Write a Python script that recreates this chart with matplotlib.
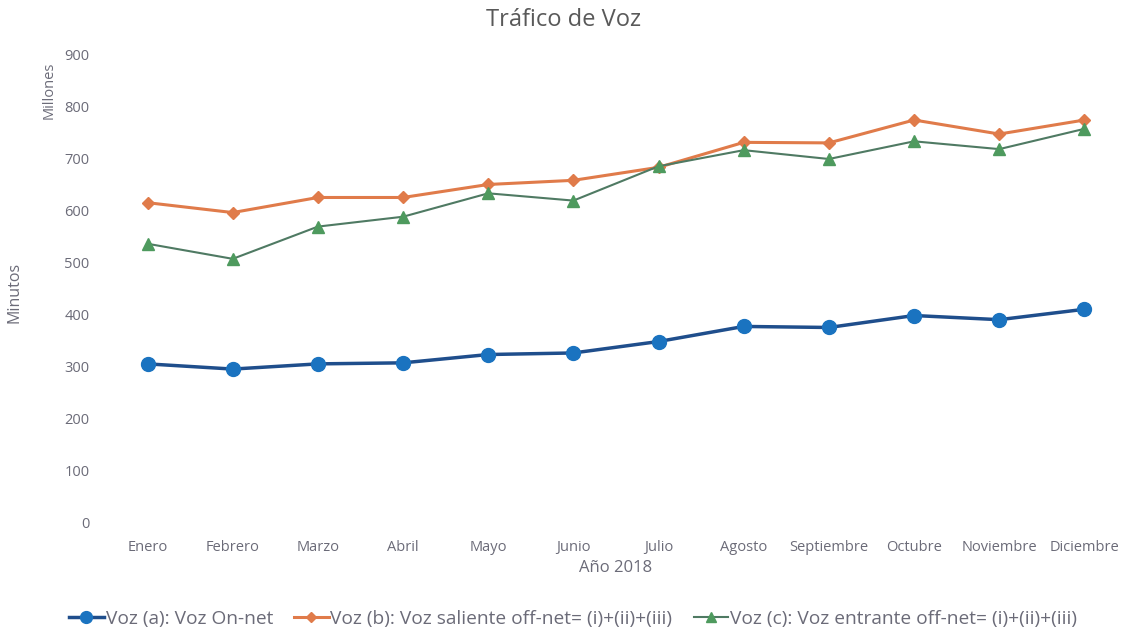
import matplotlib
matplotlib.use("Agg")
import matplotlib.pyplot as plt

plt.rcParams['font.family'] = ['Open Sans', 'DejaVu Sans']

months = ["Enero", "Febrero", "Marzo", "Abril", "Mayo", "Junio", "Julio",
          "Agosto", "Septiembre", "Octubre", "Noviembre", "Diciembre"]
on_net = [306, 296, 306, 308, 324, 327, 349, 378, 376, 399, 391, 411]
saliente = [616, 597, 626, 626, 651, 659, 684, 732, 731, 775, 748, 775]
entrante = [537, 508, 570, 589, 634, 620, 686, 717, 700, 734, 719, 758]
yticks = [0, 100, 200, 300, 400, 500, 600, 700, 800, 900]

labels = ["Voz (a): Voz On-net",
          "Voz (b): Voz saliente off-net= (i)+(ii)+(iii)",
          "Voz (c): Voz entrante off-net= (i)+(ii)+(iii)"]

txt = "#6b6b78"
fig = plt.figure(figsize=(11.28, 6.31), dpi=100)
ax = fig.add_axes([105/1128, 108/631, 1022/1128, 468/631])
x = list(range(len(months)))

ax.plot(x, on_net, color="#1f4e8c", lw=2.5, marker="o", markersize=10,
        markerfacecolor="#1a73c0", markeredgecolor="#1a73c0", label=labels[0], zorder=3)
ax.plot(x, saliente, color="#e07b4a", lw=2.2, marker="D", markersize=6.5,
        markerfacecolor="#e07b4a", markeredgecolor="#e07b4a", label=labels[1], zorder=3)
ax.plot(x, entrante, color="#4f7a63", lw=1.5, marker="^", markersize=8,
        markerfacecolor="#4e9a5e", markeredgecolor="#4e9a5e", label=labels[2], zorder=3)

ax.set_xlim(-0.5, 11.5)
ax.set_ylim(0, 900)
ax.set_yticks(yticks)
ax.set_xticks(x)
ax.set_xticklabels(months)
for s in ax.spines.values():
    s.set_visible(False)
ax.tick_params(axis='both', length=0, colors=txt, labelsize=10.5)
ax.tick_params(axis='x', pad=12)
ax.tick_params(axis='y', pad=11)

ax.set_xlabel("Año 2018", color=txt, fontsize=12, labelpad=4)
fig.text(15/1128, 1 - 292/631, "Minutos", rotation=90, color=txt, fontsize=11.5,
         ha='center', va='center')
fig.text(49/1128, 1 - 90/631, "Millones", rotation=90, color=txt, fontsize=10.5,
         ha='center', va='center')
fig.suptitle("Tráfico de Voz", y=1 - 20/631, va='center', color="#595959", fontsize=17)

fig.legend(loc='center', bbox_to_anchor=(0.508, 1 - 619/631), ncol=3, frameon=False,
           fontsize=13.8, labelcolor=txt, handlelength=1.8, handletextpad=0.1,
           columnspacing=1.1, markerscale=0.85)

fig.savefig("out.png", dpi=100)
